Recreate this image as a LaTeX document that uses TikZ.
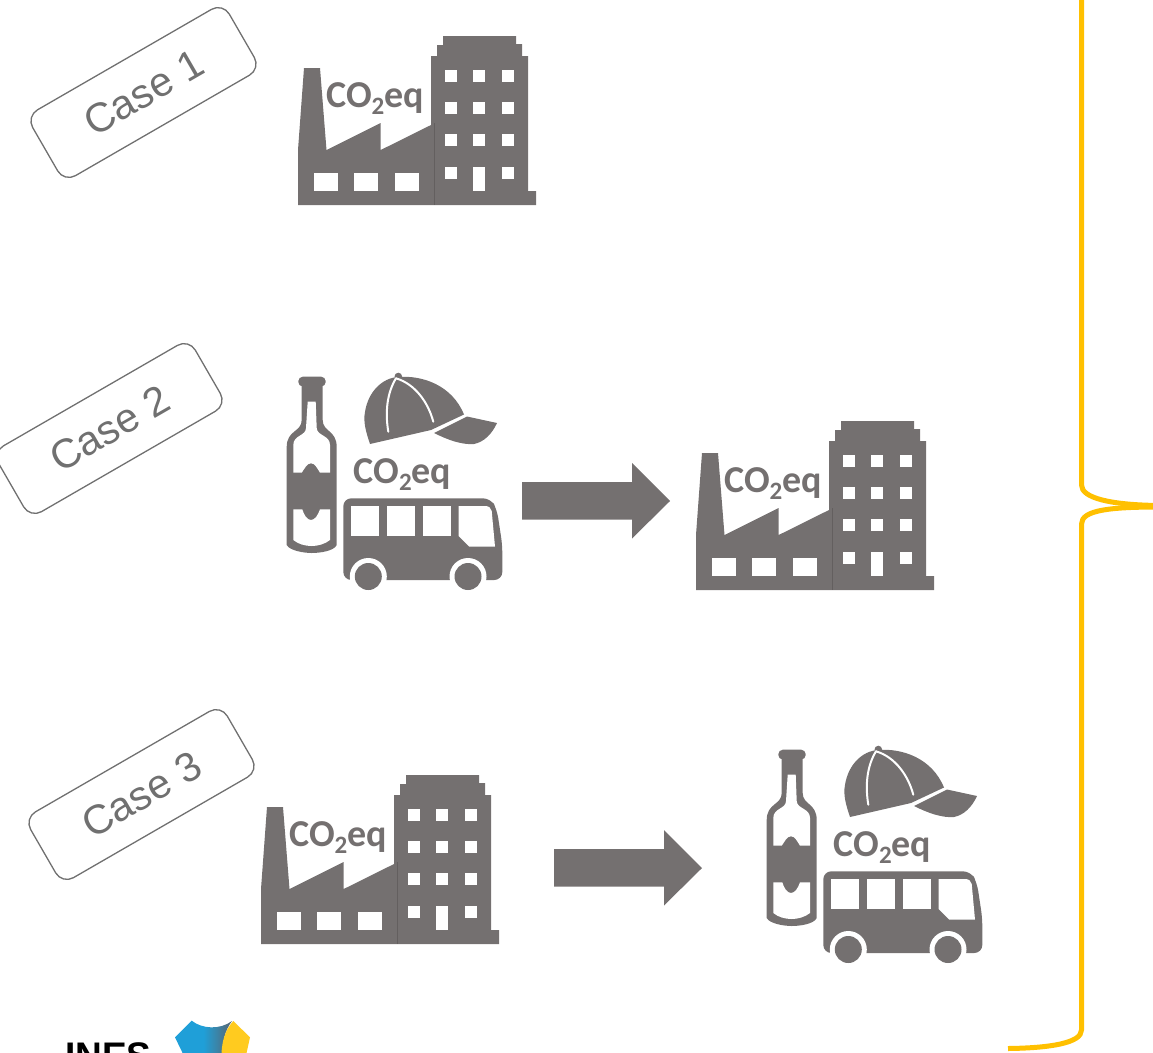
\documentclass[tikz,border=0pt]{standalone}
\usepackage{fontspec}
\setmainfont{Liberation Sans}
\newfontfamily\iconfont{Carlito}
\definecolor{IconGrey}{HTML}{747070}
\definecolor{LabelGrey}{HTML}{707070}
\definecolor{BraceGold}{HTML}{FFC000}
\definecolor{LogoBlue}{HTML}{1F9FD8}
\definecolor{LogoShade}{HTML}{5A6570}
\definecolor{LogoYellow}{HTML}{FFCB1F}
\newcommand{\coeq}{\fontsize{38}{38}\selectfont\iconfont\bfseries CO\raisebox{-7pt}{\fontsize{25}{25}\selectfont 2}eq}
\usetikzlibrary{arrows.meta,positioning,calc}

\begin{document}
\begin{tikzpicture}[
  x=1pt,y=-1pt,
  casebox/.style={draw=LabelGrey,line width=1.3pt,rounded corners=13pt,rotate=30,minimum width=227pt,minimum height=76pt,
    text=LabelGrey,font=\fontsize{41}{41}\selectfont},
  co2label/.style={anchor=base west,text=IconGrey,inner sep=0pt},
  icon/.style={fill=IconGrey,draw=none},
  hole/.style={fill=white,draw=none},
  seam/.style={draw=white,line width=2pt,line cap=round},
  brace/.style={draw=BraceGold,line width=5pt},
  factory/.pic={
    \fill[icon] (298,205) -- (298,150) -- (304,68) -- (320,68) -- (326.5,150) -- (380.7,123) -- (380.7,150) -- (431,125)
      -- (431,56) -- (437,56) -- (437,45) -- (443,45) -- (443,36) -- (516,36) -- (516,44) -- (522,44) -- (522,56) -- (528,56)
      -- (528,191) -- (536,191) -- (536,205) -- cycle;
    \draw[black!15!IconGrey,line width=0.5pt] (434.5,123) -- (434.5,205);
    \foreach \wx in {314,354.3,394.7}
      \fill[hole] (\wx,172.7) rectangle ++(24,18);
    \foreach \wx in {445.3,473.3,501.7}
      \foreach \wy in {70,102.3,134.3,166.7}
        \fill[hole] (\wx,\wy) rectangle ++(12,12);
    \fill[hole] (473.3,178) rectangle (485.3,190.7);
    \node[co2label] (co2) at (326,107) {\coeq};
  },
  goods/.pic={
    % bottle
    \fill[icon,rounded corners=4.5pt] (298.3,376.7) rectangle (325.7,386.5);
    \fill[icon] (301.7,385) -- (301.7,420) .. controls (301.7,432) and (286.7,430) .. (286.7,447) -- (286.7,545)
      .. controls (290,551) and (305,553) .. (311.7,553) .. controls (320,553) and (334,551) .. (336.7,545)
      -- (336.7,447) .. controls (336.7,430) and (322.7,432) .. (322.7,420) -- (322.7,385) -- cycle;
    \fill[hole] (307.7,401.7) -- (315.7,401.7) -- (316.7,428) .. controls (317,436) and (330,435) .. (330,445) -- (330,472.7) -- (320,472.7)
      .. controls (317,468) and (315,463.3) .. (311,463.3) .. controls (307,463.3) and (305,468) .. (301.7,472.7)
      -- (293.3,472.7) -- (293.3,445) .. controls (293.3,435) and (306,436) .. (306,428) -- cycle;
    \fill[hole] (293.3,509.3) -- (302.3,509.3) .. controls (304,515) and (307,520) .. (311,520) .. controls (315,520) and (318,515) .. (320,509.3)
      -- (330,509.3) -- (330,540) .. controls (325,544) and (318,546) .. (311.7,546) .. controls (305,546) and (298,544) .. (293.3,540) -- cycle;
    % cap
    \fill[icon] (398.3,376.5) circle (3.8);
    \fill[icon] (370,444) .. controls (366,432) and (363,422) .. (365,412) .. controls (368,392) and (382,378) .. (398,377)
      .. controls (422,375) and (452,385) .. (464,414.5) -- (431,430) -- cycle;
    \fill[icon] (467,416.5) -- (497,423) .. controls (492,434) and (484,442) .. (474,444) .. controls (462,445) and (448,440) .. (434,433) -- cycle;
    \draw[seam] (396,378.3) .. controls (387,393) and (385,412) .. (388.3,431.7);
    \draw[seam] (396,378.3) .. controls (415,384) and (428,402) .. (433.3,421.7);
    % bus
    \fill[icon,rounded corners=8pt] (343.3,498.3) -- (491,498.3) -- (497,510) -- (502.3,545) -- (502.3,580) -- (343.3,580) -- cycle;
    \foreach \wx in {350.7,386.7,422.7}
      \fill[hole] (\wx,506) rectangle ++(28.6,30);
    \fill[hole] (458.7,506) -- (485,506) .. controls (489,506) and (491,508) .. (491.7,511) -- (495,546.7) -- (469.3,546.7) -- (458.7,536) -- cycle;
    \foreach \wx in {368.3,468} {
      \fill[hole] (\wx,576.5) circle (18.5);
      \fill[icon] (\wx,576.5) circle (13.5);
    }
    \node[co2label] (co2) at (353.3,483.5) {\coeq};
  },
  blockarrow/.pic={
    \fill[icon] (522,482) -- (632,482) -- (632,463) -- (670,501) -- (632,538.5) -- (632,519.5) -- (522,519.5) -- cycle;
  }
]
\useasboundingbox (0,0) rectangle (1153,1052);
\clip (0,0) rectangle (1153,1052);

\node[casebox] (caseone) at (143.5,92.5) {Case 1};
\node[casebox] (casetwo) at (109.5,428.5) {Case 2};
\node[casebox] (casethree) at (141.5,794.5) {Case 3};

\pic (facone) at (0,0) {factory};

\pic (goodstwo) at (0,0) {goods};
\pic (arrtwo) at (0,0) {blockarrow};
\pic (factwo) at (398,385) {factory};

\pic (facthree) at (-37,739) {factory};
\pic (arrthree) at (32,367) {blockarrow};
\pic (goodsthree) at (480,373) {goods};

% brace on the right
\draw[brace] (1081.5,-5) -- (1081.5,485) .. controls (1081.5,498) and (1110,505) .. (1160,505.5);
\draw[brace] (1160,507) .. controls (1110,507) and (1081.5,510) .. (1081.5,524) -- (1081.5,1030)
  .. controls (1081.5,1043) and (1050,1048) .. (1008,1048.5);

% logo, cut by the page edge
\node[anchor=base west,inner sep=0pt,font=\fontsize{37}{37}\selectfont\bfseries] (ineslogo) at (65,1068) {INES};
\shade[left color=LogoBlue,right color=LogoShade,middle color=LogoBlue] (191.7,1020.7) .. controls (202,1029) and (220,1030) .. (232,1021)
  .. controls (225,1030) and (222,1042) .. (222,1060) -- (186,1060) -- (175,1037.3) -- cycle;
\fill[LogoYellow] (233.3,1021) -- (250,1037.3) -- (245,1060) -- (221.5,1060) .. controls (221,1042) and (225,1030) .. (233.3,1021) -- cycle;
\end{tikzpicture}
\end{document}
